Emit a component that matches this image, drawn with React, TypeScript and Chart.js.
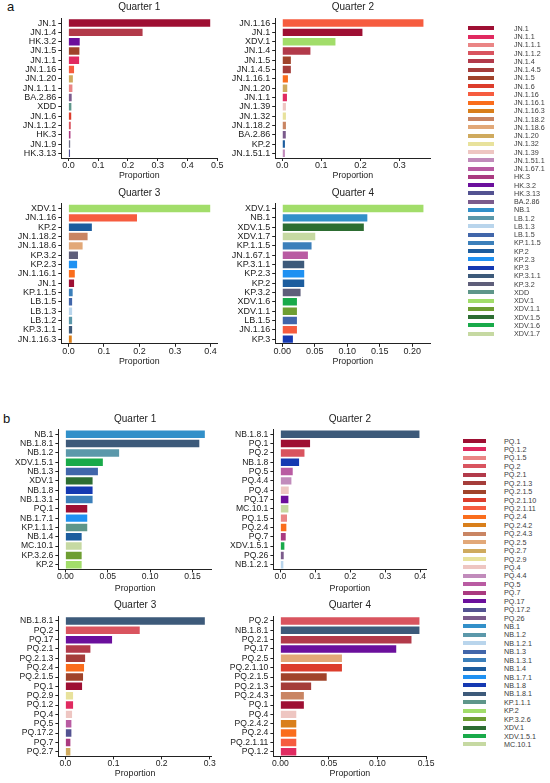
import { useEffect, useRef } from "react"
import { Chart, registerables } from "chart.js"

Chart.register(...registerables)

const FONT = '"Liberation Sans", Arial, Helvetica, sans-serif'
const INK = "#222"

// ---- panel a ----
const a1Labels = ["JN.1", "JN.1.4", "HK.3.2", "JN.1.5", "JN.1.1", "JN.1.16", "JN.1.20", "JN.1.1.1", "BA.2.86", "XDD", "JN.1.6", "JN.1.1.2", "HK.3", "JN.1.9", "HK.3.13"]
const a1Values = [0.476, 0.249, 0.038, 0.037, 0.036, 0.019, 0.015, 0.0135, 0.011, 0.01, 0.0095, 0.008, 0.007, 0.006, 0.0055]

const a2Labels = ["JN.1.16", "JN.1", "XDV.1", "JN.1.4", "JN.1.5", "JN.1.4.5", "JN.1.16.1", "JN.1.20", "JN.1.1", "JN.1.39", "JN.1.32", "JN.1.18.2", "BA.2.86", "KP.2", "JN.1.51.1"]
const a2Values = [0.361, 0.205, 0.136, 0.072, 0.022, 0.022, 0.0145, 0.0128, 0.012, 0.0094, 0.0094, 0.0094, 0.009, 0.0068, 0.0068]

const a3Labels = ["XDV.1", "JN.1.16", "KP.2", "JN.1.18.2", "JN.1.18.6", "KP.3.2", "KP.2.3", "JN.1.16.1", "JN.1", "KP.1.1.5", "LB.1.5", "LB.1.3", "LB.1.2", "KP.3.1.1", "JN.1.16.3"]
const a3Values = [0.399, 0.193, 0.066, 0.054, 0.04, 0.027, 0.0245, 0.018, 0.016, 0.012, 0.0105, 0.0105, 0.0105, 0.0105, 0.0095]

const a4Labels = ["XDV.1", "NB.1", "XDV.1.5", "XDV.1.7", "KP.1.1.5", "JN.1.67.1", "KP.3.1.1", "KP.2.3", "KP.2", "KP.3.2", "XDV.1.6", "XDV.1.1", "LB.1.5", "JN.1.16", "KP.3"]
const a4Values = [0.2174, 0.131, 0.1256, 0.0508, 0.0451, 0.0395, 0.0338, 0.0338, 0.0338, 0.0282, 0.0226, 0.0226, 0.0226, 0.0226, 0.0164]

const legendA = ["JN.1", "JN.1.1", "JN.1.1.1", "JN.1.1.2", "JN.1.4", "JN.1.4.5", "JN.1.5", "JN.1.6", "JN.1.16", "JN.1.16.1", "JN.1.16.3", "JN.1.18.2", "JN.1.18.6", "JN.1.20", "JN.1.32", "JN.1.39", "JN.1.51.1", "JN.1.67.1", "HK.3", "HK.3.2", "HK.3.13", "BA.2.86", "NB.1", "LB.1.2", "LB.1.3", "LB.1.5", "KP.1.1.5", "KP.2", "KP.2.3", "KP.3", "KP.3.1.1", "KP.3.2", "XDD", "XDV.1", "XDV.1.1", "XDV.1.5", "XDV.1.6", "XDV.1.7"]

// ---- panel b ----
const b1Labels = ["NB.1", "NB.1.8.1", "NB.1.2", "XDV.1.5.1", "NB.1.3", "XDV.1", "NB.1.8", "NB.1.3.1", "PQ.1", "NB.1.7.1", "KP.1.1.1", "NB.1.4", "MC.10.1", "KP.3.2.6", "KP.2"]
const b1Values = [0.1645, 0.158, 0.0634, 0.0442, 0.0384, 0.0321, 0.0321, 0.0321, 0.0258, 0.0258, 0.0258, 0.0192, 0.0192, 0.0192, 0.0192]

const b2Labels = ["NB.1.8.1", "PQ.1", "PQ.2", "NB.1.8", "PQ.5", "PQ.4.4", "PQ.4", "PQ.17", "MC.10.1", "PQ.1.5", "PQ.2.4", "PQ.7", "XDV.1.5.1", "PQ.26", "NB.1.2.1"]
const b2Values = [0.398, 0.085, 0.069, 0.0536, 0.0354, 0.0316, 0.024, 0.023, 0.023, 0.019, 0.0172, 0.0153, 0.0115, 0.0096, 0.0086]

const b3Labels = ["NB.1.8.1", "PQ.2", "PQ.17", "PQ.2.1", "PQ.2.1.3", "PQ.2.4", "PQ.2.1.5", "PQ.1", "PQ.2.9", "PQ.1.2", "PQ.4", "PQ.5", "PQ.17.2", "PQ.7", "PQ.2.7"]
const b3Values = [0.2897, 0.1545, 0.097, 0.052, 0.041, 0.0388, 0.0367, 0.0347, 0.016, 0.016, 0.0139, 0.0125, 0.0125, 0.0104, 0.0104]

const b4Labels = ["PQ.2", "NB.1.8.1", "PQ.2.1", "PQ.17", "PQ.2.5", "PQ.2.1.10", "PQ.2.1.5", "PQ.2.1.3", "PQ.2.4.3", "PQ.1", "PQ.4", "PQ.2.4.2", "PQ.2.4", "PQ.2.1.11", "PQ.1.2"]
const b4Values = [0.1432, 0.1432, 0.135, 0.1193, 0.0634, 0.0634, 0.0477, 0.0317, 0.0242, 0.0242, 0.0164, 0.0164, 0.0164, 0.0164, 0.0164]

const legendB = ["PQ.1", "PQ.1.2", "PQ.1.5", "PQ.2", "PQ.2.1", "PQ.2.1.3", "PQ.2.1.5", "PQ.2.1.10", "PQ.2.1.11", "PQ.2.4", "PQ.2.4.2", "PQ.2.4.3", "PQ.2.5", "PQ.2.7", "PQ.2.9", "PQ.4", "PQ.4.4", "PQ.5", "PQ.7", "PQ.17", "PQ.17.2", "PQ.26", "NB.1", "NB.1.2", "NB.1.2.1", "NB.1.3", "NB.1.3.1", "NB.1.4", "NB.1.7.1", "NB.1.8", "NB.1.8.1", "KP.1.1.1", "KP.2", "KP.3.2.6", "XDV.1", "XDV.1.5.1", "MC.10.1"]

// ---- x ticks ----
const ticks01to05 = [0, 0.1, 0.2, 0.3, 0.4, 0.5]
const ticks01to03 = [0, 0.1, 0.2, 0.3]
const ticks01to04 = [0, 0.1, 0.2, 0.3, 0.4]
const ticks005to020 = [0, 0.05, 0.1, 0.15, 0.2]
const ticks005to015 = [0, 0.05, 0.1, 0.15]

// ---- colours ----
const paletteA = [
  "#9e0f33", "#e02a60", "#ea8585", "#d9545f", "#b23a4a", "#a53d3a", "#a0432a", "#dc3d2c",
  "#f65c3f", "#fa6d1c", "#d97f1b", "#c98563", "#e2a878", "#cfaa5e", "#e8e29c", "#eec6c2",
  "#c18bbb", "#b95ba2", "#aa3a80", "#6b0f9c", "#535291", "#7b5b8c", "#3290c9", "#5b98aa",
  "#b9d5ec", "#4166aa", "#3b7fba", "#1d5d9e", "#1f91f2", "#1539b2", "#3d5a7a", "#5e5e7a",
  "#5e968a", "#a2dd6a", "#6e9e32", "#2d6d32", "#19aa4a", "#c6d9a2",
]
const paletteB = paletteA.filter((_, i) => i !== 31)

const colorsA: Record<string, string> = { "JN.1.9": "#6f6f86" }
legendA.forEach((n, i) => (colorsA[n] = paletteA[i]))
const colorsB: Record<string, string> = {}
legendB.forEach((n, i) => (colorsB[n] = paletteB[i]))

type Geo = {
  left: number
  width: number
  axisLeft: number
  axisRight: number
  titleY: number
  areaTop: number
  areaBottom: number
  xTitleY: number
}

function BarPanel(props: {
  title: string
  labels: string[]
  values: number[]
  ticks: number[]
  digits: number
  colors: Record<string, string>
  geo: Geo
  labelSize: number
}) {
  const { title, labels, values, ticks, digits, colors, geo, labelSize } = props
  const ref = useRef<HTMLCanvasElement>(null)

  const top = Math.floor(geo.titleY - 7.5)
  const bottom = Math.ceil(geo.xTitleY + 6)
  const height = bottom - top
  const titlePadTop = geo.titleY - top - 5
  const titlePadBottom = geo.areaTop - top - 10 - titlePadTop

  useEffect(() => {
    if (!ref.current) return
    const max = Math.max(...values)
    const chart = new Chart(ref.current, {
      type: "bar",
      data: {
        labels,
        datasets: [{
          data: values,
          backgroundColor: labels.map((l) => colors[l]),
          borderWidth: 0,
          barPercentage: 0.8,
          categoryPercentage: 1,
        }],
      },
      options: {
        indexAxis: "y",
        animation: false,
        responsive: false,
        layout: { padding: { left: 0, top: 0, bottom: 0, right: geo.left + geo.width - geo.axisRight } },
        plugins: {
          legend: { display: false },
          tooltip: { enabled: false },
          title: {
            display: true,
            text: title,
            fullSize: false,
            color: INK,
            font: { family: FONT, size: 10, weight: "normal", lineHeight: 1 },
            padding: { top: titlePadTop, bottom: titlePadBottom },
          },
        },
        scales: {
          x: {
            type: "linear",
            min: -0.05 * max,
            max: 1.05 * max,
            afterBuildTicks: (s: any) => { s.ticks = ticks.map((v) => ({ value: v })) },
            afterFit: (s: any) => { s.height = bottom - geo.areaBottom },
            ticks: {
              color: INK,
              padding: 0,
              font: { family: FONT, size: labelSize, lineHeight: 1 },
              callback: (v: any) => Number(v).toFixed(digits),
            },
            grid: { drawOnChartArea: false, tickLength: 3, color: INK, lineWidth: 1 },
            border: { color: INK, width: 1 },
            title: {
              display: true,
              text: "Proportion",
              color: INK,
              font: { family: FONT, size: 8.8, lineHeight: 1 },
              padding: { top: 0, bottom: bottom - geo.xTitleY - 4.4 },
            },
          },
          y: {
            afterFit: (s: any) => { s.width = geo.axisLeft - geo.left },
            ticks: {
              autoSkip: false,
              color: INK,
              padding: 2,
              font: { family: FONT, size: labelSize, lineHeight: 1 },
            },
            grid: { offset: false, drawOnChartArea: false, tickLength: 3, color: INK, lineWidth: 1 },
            border: { color: INK, width: 1 },
          },
        },
      },
    })
    return () => { chart.destroy() }
  }, [])

  return (
    <canvas
      ref={ref}
      width={geo.width}
      height={height}
      style={{ position: "absolute", left: geo.left, top, width: geo.width, height }}
    />
  )
}

function Legend(props: { items: string[]; palette: string[]; top: number; step: number; swatchLeft: number; swatchWidth: number; textLeft: number }) {
  const { items, palette, top, step, swatchLeft, swatchWidth, textLeft } = props
  return (
    <>
      {items.map((name, i) => (
        <div key={name}>
          <div style={{ position: "absolute", left: swatchLeft, top: top + i * step - 2, width: swatchWidth, height: 4, background: palette[i] }} />
          <div style={{ position: "absolute", left: textLeft, top: top + i * step - 4.5, fontSize: 7.2, lineHeight: "9px", color: "#3a3a3a", fontFamily: FONT, whiteSpace: "nowrap" }}>{name}</div>
        </div>
      ))}
    </>
  )
}

const rowATop = { titleY: 7.5, areaTop: 18.4, areaBottom: 158, xTitleY: 175.7 }
const rowABottom = { titleY: 193.3, areaTop: 203.9, areaBottom: 343.8, xTitleY: 361.7 }
const rowBTop = { titleY: 419.3, areaTop: 429.6, areaBottom: 569.4, xTitleY: 589 }
const rowBBottom = { titleY: 605.3, areaTop: 616.3, areaBottom: 756.4, xTitleY: 774 }
const colALeft = { left: 0, width: 230, axisLeft: 61.3, axisRight: 217.3 }
const colARight = { left: 225, width: 218, axisLeft: 275.2, axisRight: 430.5 }
const colBLeft = { left: 0, width: 225, axisLeft: 58.4, axisRight: 211.8 }
const colBRight = { left: 225, width: 215, axisLeft: 273.4, axisRight: 426.4 }

export default function App() {
  return (
    <div style={{ position: "absolute", left: 0, top: 0, width: 550, height: 783, background: "#fff", overflow: "hidden", fontFamily: FONT }}>
      <div style={{ position: "absolute", left: 7, top: -1, fontSize: 13, color: "#111" }}>a</div>
      <div style={{ position: "absolute", left: 3, top: 411, fontSize: 13, color: "#111" }}>b</div>

      <BarPanel title="Quarter 1" labels={a1Labels} values={a1Values} ticks={ticks01to05} digits={1} colors={colorsA} geo={{ ...colALeft, ...rowATop }} labelSize={9} />
      <BarPanel title="Quarter 2" labels={a2Labels} values={a2Values} ticks={ticks01to03} digits={1} colors={colorsA} geo={{ ...colARight, ...rowATop }} labelSize={9} />
      <BarPanel title="Quarter 3" labels={a3Labels} values={a3Values} ticks={ticks01to04} digits={1} colors={colorsA} geo={{ ...colALeft, ...rowABottom }} labelSize={9} />
      <BarPanel title="Quarter 4" labels={a4Labels} values={a4Values} ticks={ticks005to020} digits={2} colors={colorsA} geo={{ ...colARight, ...rowABottom }} labelSize={9} />

      <BarPanel title="Quarter 1" labels={b1Labels} values={b1Values} ticks={ticks005to015} digits={2} colors={colorsB} geo={{ ...colBLeft, ...rowBTop }} labelSize={8.6} />
      <BarPanel title="Quarter 2" labels={b2Labels} values={b2Values} ticks={ticks01to04} digits={1} colors={colorsB} geo={{ ...colBRight, ...rowBTop }} labelSize={8.6} />
      <BarPanel title="Quarter 3" labels={b3Labels} values={b3Values} ticks={ticks01to03} digits={1} colors={colorsB} geo={{ ...colBLeft, ...rowBBottom }} labelSize={8.6} />
      <BarPanel title="Quarter 4" labels={b4Labels} values={b4Values} ticks={ticks005to015} digits={2} colors={colorsB} geo={{ ...colBRight, ...rowBBottom }} labelSize={8.6} />

      <Legend items={legendA} palette={paletteA} top={28.3} step={8.25} swatchLeft={468} swatchWidth={26} textLeft={514} />
      <Legend items={legendB} palette={paletteB} top={441} step={8.43} swatchLeft={463} swatchWidth={23} textLeft={504} />
    </div>
  )
}
